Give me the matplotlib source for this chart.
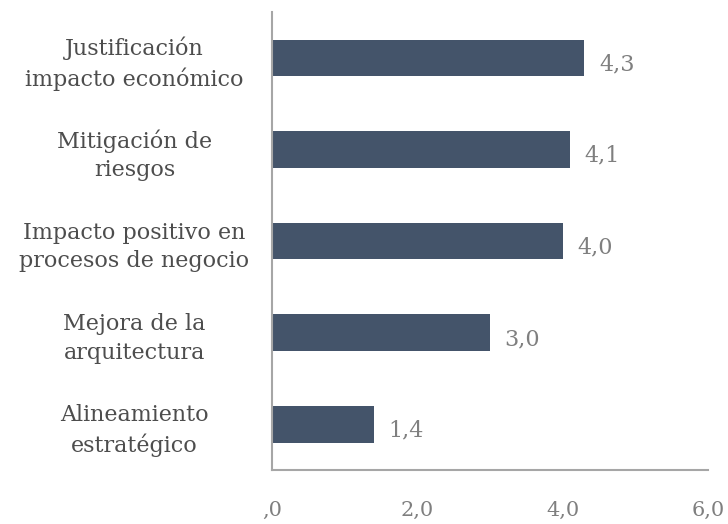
import matplotlib.pyplot as plt

plt.rcParams['font.family'] = ['DejaVu Serif']

# datos
categorias = ['Justificación\nimpacto económico', 'Mitigación de\nriesgos',
              'Impacto positivo en\nprocesos de negocio', 'Mejora de la\narquitectura',
              'Alineamiento\nestratégico']
valores = [4.3, 4.1, 4.0, 3.0, 1.4]
etiquetas = ['4,3', '4,1', '4,0', '3,0', '1,4']
ticks = [0, 2, 4, 6]
tick_labels = [',0', '2,0', '4,0', '6,0']

fig = plt.figure(figsize=(7.28, 5.24), dpi=100)
ax = fig.add_axes([0.3736, 0.103, 0.599, 0.874])

y = list(range(len(categorias)))
ax.barh(y, valores, height=0.4, color='#44546A')
ax.set_ylim(4.5, -0.5)
ax.set_xlim(0, 6)

for yi, v, t in zip(y, valores, etiquetas):
    ax.text(v + 0.2, yi + 0.07, t, va='center', ha='left', fontsize=16, color='#7F7F7F')

ax.set_yticks(y)
ax.set_yticklabels(categorias, fontsize=16, color='#4D4D4D', ha='center', linespacing=1.4)
ax.tick_params(axis='y', length=0, pad=99)
ax.set_xticks(ticks)
ax.set_xticklabels(tick_labels, fontsize=15, color='#7F7F7F')
ax.tick_params(axis='x', length=0, pad=22)

for s in ['top', 'right']:
    ax.spines[s].set_visible(False)
for s in ['left', 'bottom']:
    ax.spines[s].set_color('#A6A6A6')
    ax.spines[s].set_linewidth(1.5)

fig.savefig('out.png', dpi=100)
